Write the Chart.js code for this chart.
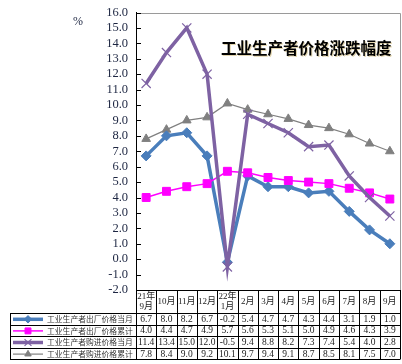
<!DOCTYPE html>
<html><head><meta charset="utf-8">
<script src="https://cdn.jsdelivr.net/npm/chart.js@4/dist/chart.umd.min.js"></script>
<style>html,body{margin:0;padding:0;background:#fff;}canvas{display:block;}</style>
</head><body>
<canvas id="c" width="402" height="364"></canvas>
<script>
const categories = [['21年','9月'],['10月'],['11月'],['12月'],['22年','1月'],['2月'],['3月'],['4月'],['5月'],['6月'],['7月'],['8月'],['9月']];
const seriesNames = ['工业生产者出厂价格当月','工业生产者出厂价格累计','工业生产者购进价格当月','工业生产者购进价格累计'];
const outMonth = [6.7, 8.0, 8.2, 6.7, -0.2, 5.4, 4.7, 4.7, 4.3, 4.4, 3.1, 1.9, 1.0];
const outCum   = [4.0, 4.4, 4.7, 4.9, 5.7, 5.6, 5.3, 5.1, 5.0, 4.9, 4.6, 4.3, 3.9];
const inMonth  = [11.4, 13.4, 15.0, 12.0, -0.5, 9.4, 8.8, 8.2, 7.3, 7.4, 5.4, 4.0, 2.8];
const inCum    = [7.8, 8.4, 9.0, 9.2, 10.1, 9.7, 9.4, 9.1, 8.7, 8.5, 8.1, 7.5, 7.0];
const yMin = -2, yMax = 16, yStep = 1;
const titleText = '工业生产者价格涨跌幅度';
const unitText = '%';

const SERIF = '"Liberation Serif", "Noto Sans CJK SC", serif';
const CJK = '"Noto Sans CJK SC", sans-serif';

const datasets = [
  {label: seriesNames[0], data: outMonth, borderColor:'#4A7EBB', backgroundColor:'#4A7EBB', borderWidth:3.5, pointStyle:'rectRot', pointRadius:5, pointBorderWidth:1, order:2},
  {label: seriesNames[1], data: outCum, borderColor:'#FF00FF', backgroundColor:'#FF00FF', borderWidth:1.5, pointStyle:'rect', pointRadius:5.6, pointBorderWidth:1, order:1},
  {label: seriesNames[2], data: inMonth, borderColor:'#7E62A3', backgroundColor:'#7E62A3', borderWidth:3.5, pointStyle:'crossRot', pointRadius:6.5, pointBorderWidth:1.2, order:0},
  {label: seriesNames[3], data: inCum, borderColor:'#808080', backgroundColor:'#808080', borderWidth:1.2, pointStyle:'triangle', pointRadius:5, pointBorderWidth:1, order:3}
];
datasets.forEach(d => { d.tension = 0; d.fill = false; d.pointHoverRadius = d.pointRadius; });

const decorPlugin = {
  id: 'decor',
  afterDraw(chart) {
    const ctx = chart.ctx;
    const ca = chart.chartArea;
    const xs = chart.scales.x, ys = chart.scales.y;
    ctx.save();
    ctx.strokeStyle = '#9a9a9a'; ctx.lineWidth = 1;
    ctx.beginPath();
    ctx.moveTo(ca.left, Math.round(ca.top) + 0.5); ctx.lineTo(ca.right + 0.5, Math.round(ca.top) + 0.5); ctx.lineTo(ca.right + 0.5, ca.bottom);
    ctx.stroke();
    ctx.strokeStyle = '#000';
    ctx.beginPath();
    for (let v = yMin; v <= yMax; v += yStep) {
      const y = Math.round(ys.getPixelForValue(v)) + 0.5;
      ctx.moveTo(ca.left, y); ctx.lineTo(ca.left + 5, y);
    }
    ctx.stroke();
    ctx.fillStyle = '#1c2541';
    ctx.font = '12px ' + SERIF;
    ctx.textAlign = 'center'; ctx.textBaseline = 'middle';
    ctx.fillText(unitText, 78, 22);
    ctx.font = 'bold 15.5px ' + CJK;
    ctx.textAlign = 'left';
    ctx.fillStyle = '#e3d6b0';
    ctx.fillText(titleText, 222, 49);
    ctx.fillStyle = '#000';
    ctx.fillText(titleText, 221, 48);

    const n = categories.length;
    const step = xs.getPixelForValue(1) - xs.getPixelForValue(0);
    const bounds = [];
    for (let i = 0; i < n; i++) bounds.push(xs.getPixelForValue(i) - step / 2);
    bounds.push(xs.getPixelForValue(n - 1) + step / 2);
    const headTop = ca.bottom;
    const rowH = 11.6;
    const bodyTop = 313;
    const rows = [outMonth, outCum, inMonth, inCum];
    const bottom = bodyTop + rows.length * rowH;
    const legLeft = 10;
    ctx.strokeStyle = '#000'; ctx.lineWidth = 1;
    ctx.beginPath();
    ctx.moveTo(ca.left, Math.round(headTop) + 0.5); ctx.lineTo(bounds[n], Math.round(headTop) + 0.5);
    for (let r = 0; r <= rows.length; r++) {
      const y = Math.round(bodyTop + r * rowH) + 0.5;
      ctx.moveTo(legLeft, y); ctx.lineTo(bounds[n], y);
    }
    for (let i = 0; i <= n; i++) {
      const x = Math.round(bounds[i]) + 0.5;
      ctx.moveTo(x, headTop); ctx.lineTo(x, Math.round(bottom) + 0.5);
    }
    ctx.moveTo(legLeft + 0.5, bodyTop); ctx.lineTo(legLeft + 0.5, Math.round(bottom) + 0.5);
    ctx.stroke();

    ctx.fillStyle = '#222';
    ctx.textAlign = 'center'; ctx.textBaseline = 'middle';
    ctx.font = '9px ' + SERIF;
    for (let i = 0; i < n; i++) {
      const cx = xs.getPixelForValue(i);
      const lab = categories[i];
      const mid = (headTop + bodyTop) / 2;
      if (lab.length === 1) ctx.fillText(lab[0], cx, mid);
      else { ctx.fillText(lab[0], cx, mid - 5); ctx.fillText(lab[1], cx, mid + 5); }
    }
    ctx.font = '9.5px ' + SERIF;
    rows.forEach((arr, r) => {
      const cy = bodyTop + r * rowH + rowH / 2 + 0.5;
      arr.forEach((v, i) => ctx.fillText(v.toFixed(1), xs.getPixelForValue(i), cy));
    });
    datasets.forEach((d, r) => {
      const cy = bodyTop + r * rowH + rowH / 2 + 0.5;
      ctx.strokeStyle = d.borderColor; ctx.lineWidth = d.borderWidth;
      ctx.beginPath(); ctx.moveTo(13, cy); ctx.lineTo(43, cy); ctx.stroke();
      ctx.fillStyle = d.backgroundColor; ctx.strokeStyle = d.borderColor; ctx.lineWidth = d.pointBorderWidth;
      Chart.helpers.drawPoint(ctx, {pointStyle: d.pointStyle, radius: d.pointRadius * 0.75, rotation: 0, borderWidth: d.pointBorderWidth}, 28, cy);
      ctx.fillStyle = '#333';
      ctx.font = '7.8px ' + CJK;
      ctx.textAlign = 'left';
      ctx.fillText(d.label, 47, cy);
      ctx.textAlign = 'center';
    });
    ctx.restore();
  }
};

new Chart(document.getElementById('c'), {
  type: 'line',
  data: { labels: categories.map(c => c.join('')), datasets },
  options: {
    responsive: false,
    animation: false,
    devicePixelRatio: 1,
    layout: { autoPadding: false, padding: { left: 0, top: 12.5, right: 2, bottom: 74 } },
    plugins: { legend: { display: false }, tooltip: { enabled: false }, title: { display: false } },
    scales: {
      x: { type: 'category', display: false, offset: true },
      y: {
        min: yMin, max: yMax,
        afterFit(s) { s.width = 136; s.paddingTop = 0; s.paddingBottom = 0; },
        grid: { display: false, drawTicks: false },
        border: { display: true, color: '#000', width: 1 },
        ticks: { stepSize: yStep, autoSkip: false, padding: 8, color: '#1c2541', font: { family: SERIF, size: 12.5 }, callback: v => Number(v).toFixed(1) }
      }
    }
  },
  plugins: [decorPlugin]
});
</script>
</body></html>
